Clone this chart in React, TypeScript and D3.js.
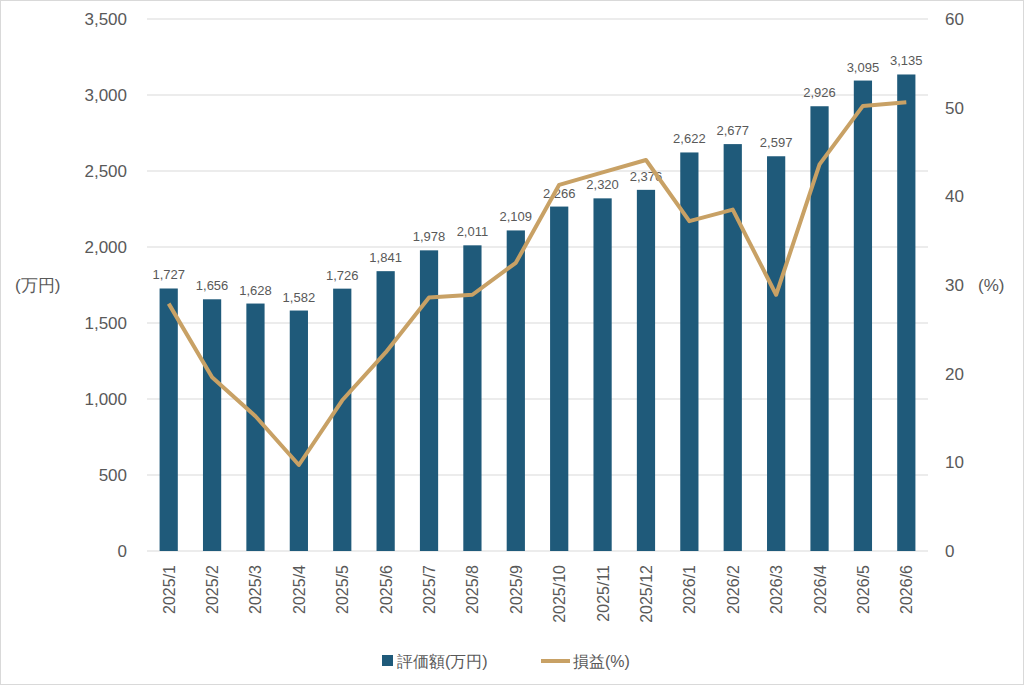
import * as d3 from "d3";

const categories = ["2025/1","2025/2","2025/3","2025/4","2025/5","2025/6","2025/7","2025/8","2025/9","2025/10","2025/11","2025/12","2026/1","2026/2","2026/3","2026/4","2026/5","2026/6"];
const values = [1727,1656,1628,1582,1726,1841,1978,2011,2109,2266,2320,2376,2622,2677,2597,2926,3095,3135];
const profit = [27.9,19.6,15.2,9.7,17.0,22.4,28.6,28.9,32.5,41.3,42.7,44.1,37.2,38.5,28.9,43.6,50.2,50.6];
const leftTicks = [0,500,1000,1500,2000,2500,3000,3500];
const rightTicks = [0,10,20,30,40,50,60];

const W = 1024, H = 685;
const left = 147, right = 928, top = 19, bottom = 551;
const barColor = "#1F5A7A", lineColor = "#C8A165", text = "#595959";
const font = "Liberation Sans, Arial, sans-serif";

export default function App() {
  const x = d3.scaleBand().domain(categories).range([left, right]).paddingInner(0.58).paddingOuter(0.29);
  const y = d3.scaleLinear().domain([0, 3500]).range([bottom, top]);
  const y2 = d3.scaleLinear().domain([0, 60]).range([bottom, top]);
  const fmt = d3.format(",");
  const line = d3.line<number>().x((_, i) => x(categories[i])! + x.bandwidth() / 2).y((d) => y2(d));
  return (
    <svg width={W} height={H} style={{ position: "absolute", left: 0, top: 0 }} fontFamily={font}>
      <rect x={0.5} y={0.5} width={W - 1} height={H - 1} fill="#fff" stroke="#d9d9d9" />
      {leftTicks.map((t) => (
        <g key={t}>
          <line x1={left} x2={right} y1={y(t)} y2={y(t)} stroke="#d9d9d9" />
          <text x={127} y={y(t)} dy="0.35em" textAnchor="end" fontSize={17} fill={text}>{fmt(t)}</text>
        </g>
      ))}
      {rightTicks.map((t) => (
        <text key={t} x={945} y={y2(t)} dy="0.35em" fontSize={17} fill={text}>{t}</text>
      ))}
      <text x={15} y={285} dy="0.35em" fontSize={17} fill={text}>(万円)</text>
      <text x={978} y={285} dy="0.35em" fontSize={17} fill={text}>(%)</text>
      {values.map((v, i) => (
        <g key={i}>
          <rect x={x(categories[i])} y={y(v)} width={x.bandwidth()} height={bottom - y(v)} fill={barColor} />
          <text x={x(categories[i])! + x.bandwidth() / 2} y={y(v) - 9} textAnchor="middle" fontSize={13} fill={text}>{fmt(v)}</text>
          <text transform={`translate(${x(categories[i])! + x.bandwidth() / 2 + 6},565) rotate(-90)`} textAnchor="end" fontSize={16} fill={text}>{categories[i]}</text>
        </g>
      ))}
      <path d={line(profit)!} fill="none" stroke={lineColor} strokeWidth={4} strokeLinejoin="round" />
      <rect x={382} y={655} width={11} height={11} fill={barColor} />
      <text x={397} y={661} dy="0.35em" fontSize={16} fill={text}>評価額(万円)</text>
      <line x1={541} x2={570} y1={661} y2={661} stroke={lineColor} strokeWidth={4} />
      <text x={573} y={661} dy="0.35em" fontSize={16} fill={text}>損益(%)</text>
    </svg>
  );
}
